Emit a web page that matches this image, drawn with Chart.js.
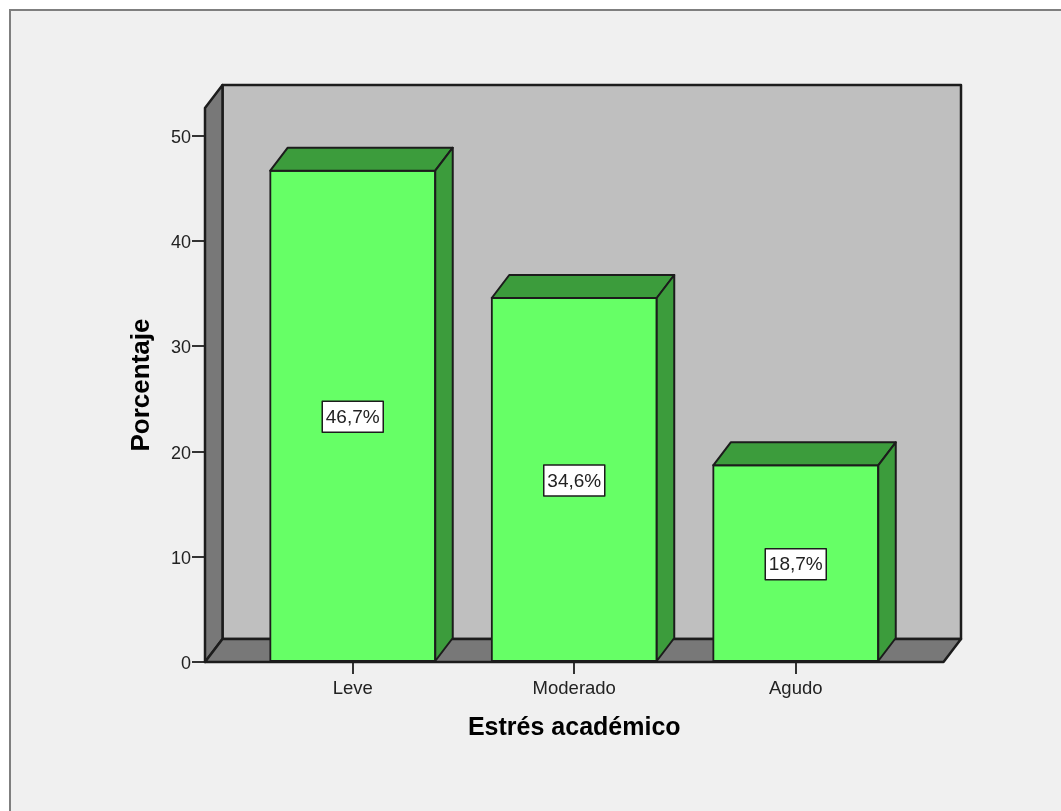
<!DOCTYPE html>
<html>
<head>
<meta charset="utf-8">
<script src="https://cdn.jsdelivr.net/npm/chart.js@4"></script>
<style>
    html, body { margin: 0; padding: 0; background: #fff; }
    canvas { display: block; }
</style>
</head>
<body>
<canvas id="chart" width="1061" height="811"></canvas>
<script>
const categories = ["Leve", "Moderado", "Agudo"];
const percentages = [46.7, 34.6, 18.7];
const yTicks = [0, 10, 20, 30, 40, 50];

const FONT = "'Liberation Sans', Arial, sans-serif";
const EDGE = "#1c1c1c";
// depth of the fake 3D box, in pixels
const DX = 17.5;
const DY = -23;

function poly(ctx, pts, fill, lineWidth) {
    ctx.beginPath();
    pts.forEach((p, i) => i ? ctx.lineTo(p[0], p[1]) : ctx.moveTo(p[0], p[1]));
    ctx.closePath();
    ctx.fillStyle = fill;
    ctx.fill();
    ctx.lineWidth = lineWidth;
    ctx.strokeStyle = EDGE;
    ctx.lineJoin = "round";
    ctx.stroke();
}

const framePlugin = {
    id: "frame",
    beforeDraw(chart) {
        const ctx = chart.ctx;
        ctx.save();
        ctx.fillStyle = "#fff";
        ctx.fillRect(0, 0, chart.width, chart.height);
        ctx.fillStyle = "#f0f0f0";
        ctx.fillRect(10, 10, chart.width, chart.height);
        ctx.strokeStyle = "#7f7f7f";
        ctx.lineWidth = 2;
        ctx.strokeRect(10, 10, chart.width + 10, chart.height + 10);
        ctx.restore();
    }
};

const boxPlugin = {
    id: "box",
    beforeDatasetsDraw(chart) {
        const ctx = chart.ctx;
        const { left, right, top, bottom } = chart.chartArea;
        ctx.save();
        // back wall, left wall, floor
        poly(ctx, [[left + DX, top + DY], [right + DX, top + DY], [right + DX, bottom + DY], [left + DX, bottom + DY]], "#bfbfbf", 2.5);
        poly(ctx, [[left, top], [left + DX, top + DY], [left + DX, bottom + DY], [left, bottom]], "#787878", 2.5);
        poly(ctx, [[left, bottom], [left + DX, bottom + DY], [right + DX, bottom + DY], [right, bottom]], "#787878", 2.5);
        ctx.restore();
    },
    afterDatasetsDraw(chart) {
        const ctx = chart.ctx;
        const bars = chart.getDatasetMeta(0).data;
        ctx.save();
        bars.forEach((bar, i) => {
            const l = bar.x - bar.width / 2;
            const r = bar.x + bar.width / 2;
            const t = bar.y;
            const b = bar.base;
            // top and side faces
            poly(ctx, [[l, t], [l + DX, t + DY], [r + DX, t + DY], [r, t]], "#3c9c3c", 2);
            poly(ctx, [[r, t], [r + DX, t + DY], [r + DX, b + DY], [r, b]], "#3c9c3c", 2);

            // value label
            const w = 61, h = 31;
            const cx = bar.x;
            const cy = (bar.y + bar.base) / 2 + 1;
            ctx.fillStyle = "#fff";
            ctx.fillRect(cx - w / 2, cy - h / 2, w, h);
            ctx.strokeStyle = EDGE;
            ctx.lineWidth = 1.5;
            ctx.strokeRect(cx - w / 2, cy - h / 2, w, h);
            ctx.fillStyle = "#222";
            ctx.font = "19px " + FONT;
            ctx.textAlign = "center";
            ctx.textBaseline = "middle";
            ctx.fillText(percentages[i].toFixed(1).replace(".", ",") + "%", cx, cy + 1);
        });
        ctx.restore();
    }
};

new Chart(document.getElementById("chart"), {
    type: "bar",
    data: {
        labels: categories,
        datasets: [{
            data: percentages.map((v, i) => ({ x: i, y: v })),
            backgroundColor: "#66ff66",
            borderColor: EDGE,
            borderWidth: 2,
            borderSkipped: false,
            inflateAmount: 1,
            barThickness: 165
        }]
    },
    options: {
        responsive: false,
        animation: false,
        layout: { padding: { left: 126.5, top: 108, right: 117.5, bottom: 68 } },
        plugins: { legend: { display: false }, tooltip: { enabled: false } },
        scales: {
            x: {
                type: "linear",
                offset: false,
                min: -0.667,
                max: 2.667,
                afterFit: s => { s.height = 81; },
                afterBuildTicks: s => { s.ticks = categories.map((c, i) => ({ value: i })); },
                grid: { offset: false, drawOnChartArea: false, tickLength: 12, color: "#333", lineWidth: 2 },
                border: { display: false },
                ticks: {
                    autoSkip: false,
                    maxRotation: 0,
                    padding: 4,
                    color: "#222",
                    font: { family: FONT, size: 18.5 },
                    callback: v => categories[v]
                },
                title: {
                    display: true,
                    text: "Estrés académico",
                    color: "#000",
                    padding: 0,
                    font: { family: FONT, size: 25, weight: "bold", lineHeight: 1.2 }
                }
            },
            y: {
                min: 0,
                max: 52.66,
                afterFit: s => { s.width = 78.5; },
                afterBuildTicks: s => { s.ticks = yTicks.map(v => ({ value: v })); },
                grid: { drawOnChartArea: false, tickLength: 13, color: "#333", lineWidth: 2 },
                border: { display: false },
                ticks: {
                    padding: 1,
                    labelOffset: 2,
                    color: "#222",
                    font: { family: FONT, size: 18 }
                },
                title: {
                    display: true,
                    text: "Porcentaje",
                    color: "#000",
                    padding: 0,
                    font: { family: FONT, size: 26, weight: "bold", lineHeight: 1.2 }
                }
            }
        }
    },
    plugins: [framePlugin, boxPlugin]
});
</script>
</body>
</html>
